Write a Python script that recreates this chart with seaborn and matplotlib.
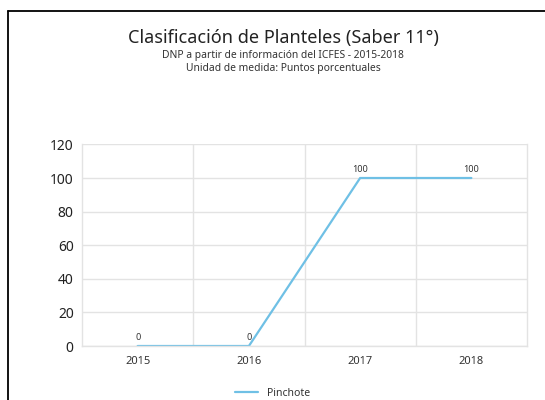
import matplotlib
matplotlib.use("Agg")
import matplotlib.pyplot as plt
from matplotlib.lines import Line2D
import pandas as pd
import seaborn as sns

YEARS = ["2015", "2016", "2017", "2018"]
VALUES = [0, 0, 100, 100]
SERIES = "Pinchote"

TITLE = "Clasificación de Planteles (Saber 11°)"
SUBTITLE = "DNP a partir de información del ICFES - 2015-2018\nUnidad de medida: Puntos porcentuales"

LINE_COLOR = "#6FC0E5"
GRID_COLOR = "#E3E3E3"
TEXT_COLOR = "#333333"


def main():
	sns.set_theme(style="white")
	plt.rcParams["font.family"] = ["Noto Sans", "DejaVu Sans"]

	data = pd.DataFrame({"year": YEARS, "value": VALUES, "serie": SERIES})

	fig = plt.figure(figsize=(5.45, 4.0), dpi=100)
	ax = fig.add_axes([0.1505, 0.135, 0.8165, 0.504])

	sns.lineplot(
		data=data,
		x="year",
		y="value",
		color=LINE_COLOR,
		linewidth=1.6,
		ax=ax,
		legend=False
	)

	ax.set_xlim(-0.5, len(YEARS) - 0.5)
	ax.set_ylim(0, 120)
	ax.set_yticks(range(0, 121, 20))
	ax.set_xticks(range(len(YEARS)))
	ax.set_xticklabels(YEARS)
	ax.set_xticks([i + 0.5 for i in range(len(YEARS) - 1)], minor=True)
	ax.grid(axis="y", which="major", color=GRID_COLOR, linewidth=1)
	ax.grid(axis="x", which="minor", color=GRID_COLOR, linewidth=1)
	ax.grid(axis="x", which="major", visible=False)
	ax.set_axisbelow(True)
	ax.set_xlabel("")
	ax.set_ylabel("")
	ax.tick_params(axis="y", labelsize=10, colors="#222222", length=0, pad=6)
	ax.tick_params(axis="x", labelsize=8, colors=TEXT_COLOR, length=0, pad=7)
	ax.tick_params(which="minor", length=0)
	for spine in ["left", "right", "bottom"]:
		ax.spines[spine].set_color(GRID_COLOR)
		ax.spines[spine].set_linewidth(1)
	ax.spines["top"].set_visible(False)

	for i, v in enumerate(VALUES):
		ax.annotate(
			f"{v}",
			(i, v),
			xytext=(0, 3),
			textcoords="offset points",
			ha="center",
			va="bottom",
			fontsize=6.5,
			color=TEXT_COLOR
		)

	fig.text(0.52, 0.905, TITLE, ha="center", va="center", fontsize=13, color="#222222")
	fig.text(0.52, 0.845, SUBTITLE, ha="center", va="center", fontsize=7.4, color="#333333", linespacing=1.3)

	handle = Line2D([], [], color=LINE_COLOR, linewidth=1.6)
	fig.legend(
		[handle],
		[SERIES],
		loc="center",
		bbox_to_anchor=(0.5, 0.017),
		frameon=False,
		fontsize=7.5,
		handlelength=2.2,
		labelcolor=TEXT_COLOR
	)

	# marco negro de la imagen original
	fig.add_artist(Line2D([0.015, 0.015], [0.0, 0.972], color="black", linewidth=1.3))
	fig.add_artist(Line2D([0.015, 1.0], [0.972, 0.972], color="black", linewidth=1.3))

	fig.savefig("out.png", dpi=100, facecolor="white")


if __name__ == "__main__":
	main()
